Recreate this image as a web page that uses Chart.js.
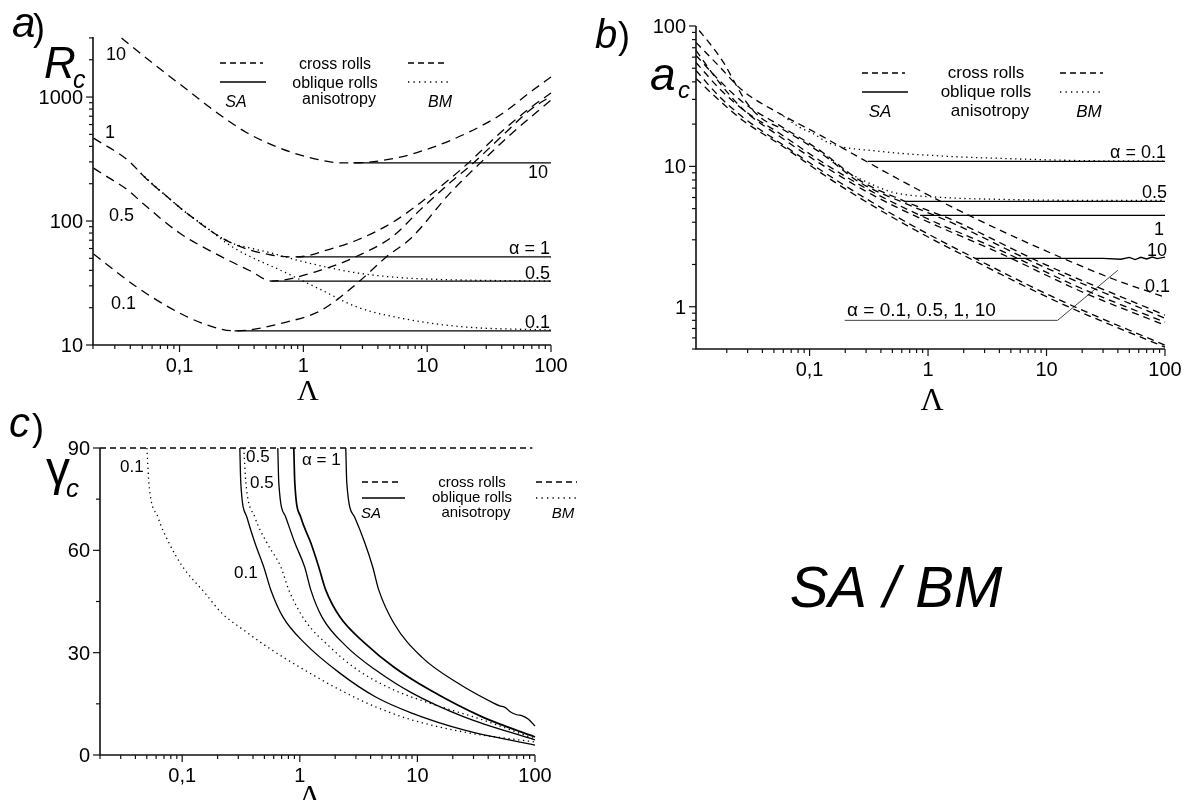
<!DOCTYPE html>
<html><head><meta charset="utf-8">
<script src="https://cdn.jsdelivr.net/npm/chart.js@4.4.1/dist/chart.umd.min.js"></script>
<style>
html,body{margin:0;padding:0;background:#fff;}
.wrap{position:absolute;left:0;top:0;width:1191px;height:800px;}
</style></head><body>
<div class="wrap"><canvas id="ca"></canvas></div>
<div class="wrap"><canvas id="cb"></canvas></div>
<div class="wrap"><canvas id="cc"></canvas></div>
<script>
// ---------- Panel a: R_c vs Lambda ----------
const lamA_c10 = [0.0340,0.0381,0.0665,0.116,0.202,0.353,0.617,1.08,2.10,2.53,6.06,11.2,21.0,38.8,71.6,100];
const rcA_c10  = [2990,2723,1746,1139,743,513,395,328,294,294,328,395,513,716,1139,1450];
const lamA_s10 = [2.53,100];   const rcA_s10 = [294,294];
const lamA_c1  = [0.0202,0.0381,0.0552,0.0800,0.114,0.253,0.552,0.879,1.65,2.73,5.32,8.78,14.2,21.0,38.8,67.7,100];
const rcA_c1   = [466,310,214,156,116,67.7,53.2,51.3,59.4,70.3,98.2,140,206,288,513,815,1077];
const lamA_s1  = [0.879,100];  const rcA_s1 = [51.3,51.3];
const lamA_c05 = [0.0202,0.0263,0.0381,0.0513,0.1,0.191,0.374,0.552,1.40,2.73,5.32,8.78,16.2,23.1,42.6,67.7,100];
const rcA_c05  = [267,226,178,137,80.0,55.2,39.5,32.8,40.3,52.2,75.7,123,214,288,513,785,1019];
const lamA_s05 = [0.552,100];  const rcA_s05 = [32.8,32.8];
const lamA_c01 = [0.0202,0.0450,0.1,0.178,0.278,0.729,1.40,2.73,4.67,7.43,15.3,25.8,46.7,100];
const rcA_c01  = [54.2,29.4,18.1,14.2,13.0,15.3,19.1,31.6,51.3,73.0,168,283,494,946];
const lamA_s01 = [0.278,100];  const rcA_s01 = [13.0,13.0];
const lamA_d1  = [0.0485,0.0552,0.0800,0.114,0.253,0.374,0.552,0.879,1.40,2.73,5.32,10.4,19.9,100];
const rcA_d1   = [244,214,156,116,67.7,60.5,55.2,48.5,43.4,38.1,35.3,34.0,33.4,32.8];
const lamA_d2  = [0.0485,0.0800,0.114,0.148,0.268,0.729,1.40,2.73,7.43,19.9,100];
const rcA_d2   = [244,156,116,96.4,61.7,38.1,27.8,20.2,15.9,14.0,13.2];

// ---------- Panel b: a_c vs Lambda ----------
const lamB_c01 = [0.0110,0.0173,0.0271,0.0557,0.115,0.310,0.981,4.08,15.1,37.0,100];
const aB_c01   = [76.4,51.5,34.8,23.8,17.2,10.7,6.32,3.50,2.14,1.57,1.17];
const lamB_c05 = [0.0110,0.0173,0.0281,0.0557,0.122,0.265,0.638,1.63,8.90,100];
const aB_c05   = [61.7,41.0,28.1,19.6,13.0,7.95,5.64,4.13,2.07,0.871];
const lamB_c1  = [0.0110,0.0173,0.0281,0.0557,0.122,0.322,0.856,4.08,19.4,100];
const aB_c1    = [55.0,35.9,25.0,17.2,11.0,6.74,4.48,2.52,1.36,0.776];
const lamB_c10 = [0.0110,0.0173,0.0281,0.0557,0.169,0.614,2.50,13.1,100];
const aB_c10   = [48.2,31.5,22.0,14.8,7.95,4.13,2.21,1.11,0.532];
const lamB_m05 = [0.0117,0.0148,0.0190,0.0241,0.0298,0.0392,0.0557,0.122,0.265,0.638,1.63,8.90,100];
const aB_m05   = [92.9,72.7,54.1,37.7,28.1,22.0,18.9,12.6,7.69,5.46,3.93,1.97,0.828];
const lamB_m1  = [0.0110,0.0173,0.0281,0.0557,0.122,0.322,0.856,4.08,19.4,100];
const aB_m1    = [67.0,39.6,25.0,16.4,10.5,6.42,4.27,2.40,1.29,0.738];
const lamB_m10 = [0.0110,0.0173,0.0281,0.0557,0.169,0.614,2.50,13.1,100];
const aB_m10   = [42.3,29.5,20.9,14.4,7.57,3.93,2.11,1.06,0.515];
const lamB_s01 = [0.310,100];  const aB_s01 = [10.85,10.85];
const lamB_s05 = [0.638,100];  const aB_s05 = [5.64,5.64];
const lamB_s1  = [0.856,100];  const aB_s1  = [4.48,4.48];
const lamB_s10 = [2.50,30,42.4,50,56,62.6,70,78,86,100];
const aB_s10   = [2.21,2.21,2.18,2.25,2.17,2.25,2.19,2.26,2.20,2.26];
const lamB_d01 = [0.0557,0.0823,0.106,0.148,0.392,1.45,4.08,19.4,100];
const aB_d01   = [23.8,19.0,17.2,14.6,12.8,11.8,11.4,11.0,10.9];
const lamB_d05 = [0.122,0.198,0.322,0.505,1.26,4.08,19.4,100];
const aB_d05   = [13.0,9.37,7.57,6.53,6.02,5.82,5.73,5.73];
const lamB_lead = [0.198,12.4,40]; const aB_lead = [0.80,0.80,1.82];

// ---------- Panel c: gamma_c vs Lambda ----------
const lamC_cross = [0.02,95];  const gC_cross = [90,90];
const lamC_d01 = [0.0501,0.0521,0.0622,0.0771,0.1014,0.156,0.217,0.334,0.578,1.10,2.19,4.42,8.95,25.2,100];
const gC_d01   = [90,79.7,69.7,62.2,55.1,47.5,41.6,36.6,30.8,24.9,19.1,14.1,10.3,6.7,3.8];
const lamC_s01 = [0.309,0.315,0.355,0.415,0.494,0.567,0.718,1.10,2.19,4.42,8.95,25.2,100];
const gC_s01   = [90,79.7,69.7,62.2,55.1,48.4,40.5,32.8,24.0,17.0,12.3,7.3,2.9];
const lamC_d05 = [0.334,0.348,0.415,0.525,0.690,0.806,1.10,1.80,3.11,6.29,12.7,35.9,100];
const gC_d05   = [90,79.7,69.7,62.2,55.1,48.4,39.6,31.7,24.9,19.1,15.2,10.3,4.7];
const lamC_s05 = [0.650,0.663,0.760,0.907,1.10,1.24,1.54,2.51,4.42,8.95,25.2,100];
const gC_s05   = [90,79.7,69.7,62.2,55.1,48.4,40.5,31.7,24.9,18.2,11.1,4.4];
const lamC_s1  = [0.889,0.907,1.02,1.24,1.45,1.66,2.19,3.57,6.29,12.7,35.9,100];
const gC_s1    = [90,79.7,69.7,62.2,55.1,48.4,40.5,32.8,25.8,19.1,11.1,5.3];
const lamC_s10 = [2.46,2.51,2.93,3.57,4.17,4.69,6.29,10.9,22.0,44.5,50,56,62,70,78,88,100];
const gC_s10   = [90,79.7,69.7,62.2,55.1,48.4,38.7,28.7,21.1,15.2,14.4,13.9,12.6,11.8,11.5,10.5,8.5];

// ---------- tick labels ----------
const logXTickVals = [0.1,1,10,100];
const logXTickText = ['0,1','1','10','100'];
const aYTickVals = [10,100,1000];  const aYTickText = ['10','100','1000'];
const bYTickVals = [1,10,100];     const bYTickText = ['1','10','100'];
const cYTickVals = [0,30,60,90];   const cYTickText = ['0','30','60','90'];
const cYMinor = [15,45,75];

const SANS = "'Liberation Sans', Arial, sans-serif";
const SERIF = "'Liberation Serif', 'Times New Roman', serif";

function ser(lams, vals, style, extra) {
  return Object.assign({
    data: lams.map((x, i) => ({x: x, y: vals[i]})),
    borderColor: '#000', borderWidth: 1.3, pointRadius: 0, fill: false, clip: false,
    cubicInterpolationMode: 'monotone', borderCapStyle: 'butt',
    borderDash: style === 'dash' ? [9, 6] : style === 'dashs' ? [7, 5] : style === 'dot' ? [1.3, 3.6] : []
  }, extra || {});
}

function logTicks(min, max) {
  const out = [];
  for (let e = Math.floor(Math.log10(min)); e <= Math.ceil(Math.log10(max)); e++) {
    for (let m = 1; m <= 9; m++) {
      const v = m * Math.pow(10, e);
      if (v >= min * 0.9999 && v <= max * 1.0001) out.push({v: v, major: m === 1});
    }
  }
  return out;
}

function txt(ctx, s, x, y, font, align) {
  ctx.font = font; ctx.textAlign = align || 'left'; ctx.textBaseline = 'alphabetic';
  ctx.fillStyle = '#000'; ctx.fillText(s, x, y);
}
function seg(ctx, x1, y1, x2, y2, dash, w) {
  ctx.save(); ctx.setLineDash(dash || []); ctx.lineWidth = w || 1.3; ctx.strokeStyle = '#000';
  ctx.beginPath(); ctx.moveTo(x1, y1); ctx.lineTo(x2, y2); ctx.stroke(); ctx.restore();
}

function drawAxes(chart, cfg) {
  const ctx = chart.ctx, xs = chart.scales.x, ys = chart.scales.y, ca = chart.chartArea;
  ctx.save();
  ctx.strokeStyle = '#111'; ctx.lineWidth = 1.6; ctx.setLineDash([]);
  ctx.beginPath(); ctx.moveTo(ca.left, ca.top); ctx.lineTo(ca.left, ca.bottom); ctx.lineTo(ca.right, ca.bottom); ctx.stroke();
  ctx.lineWidth = 1.2;
  for (const t of cfg.xTicks) {
    const px = xs.getPixelForValue(t.v), len = t.major ? 7 : 4;
    ctx.beginPath(); ctx.moveTo(px, ca.bottom); ctx.lineTo(px, ca.bottom + len); ctx.stroke();
  }
  for (const t of cfg.yTicks) {
    const py = ys.getPixelForValue(t.v), len = t.major ? 7 : 4;
    ctx.beginPath(); ctx.moveTo(ca.left, py); ctx.lineTo(ca.left - len, py); ctx.stroke();
  }
  cfg.xLab.forEach((v, i) => txt(ctx, cfg.xText[i], xs.getPixelForValue(v), ca.bottom + 27, cfg.font, 'center'));
  cfg.yLab.forEach((v, i) => txt(ctx, cfg.yText[i], ca.left - 10, ys.getPixelForValue(v) + 7, cfg.font, 'right'));
  ctx.restore();
}

function legend(ctx, L) {
  seg(ctx, L.x1, L.r1, L.x2, L.r1, [6, 4]);
  seg(ctx, L.x1, L.r2, L.x2 + 3, L.r2, []);
  txt(ctx, 'SA', L.saX, L.r3, 'italic ' + L.fs + 'px ' + SANS, 'center');
  txt(ctx, 'cross rolls', L.cx, L.b1, L.fs + 'px ' + SANS, 'center');
  txt(ctx, 'oblique rolls', L.cx, L.b2, L.fs + 'px ' + SANS, 'center');
  txt(ctx, 'anisotropy', L.cx + 4, L.b3, L.fs + 'px ' + SANS, 'center');
  seg(ctx, L.x3, L.r1, L.x4, L.r1, [6, 4]);
  seg(ctx, L.x3, L.r2, L.x4, L.r2, [1.3, 4.2]);
  txt(ctx, 'BM', L.bmX, L.r3, 'italic ' + L.fs + 'px ' + SANS, 'center');
}

function mk(id, pad, xr, yScale, datasets, deco) {
  return new Chart(document.getElementById(id), {
    type: 'line',
    data: {datasets: datasets},
    options: {
      responsive: true, maintainAspectRatio: false, animation: false, events: [],
      layout: {padding: pad},
      scales: {
        x: {type: 'logarithmic', min: xr[0], max: xr[1], display: false},
        y: Object.assign({display: false}, yScale)
      },
      plugins: {legend: {display: false}, tooltip: {enabled: false}}
    },
    plugins: [{id: 'deco_' + id, afterDraw: c => deco(c)}]
  });
}

// ---------------- Panel a ----------------
mk('ca', {left: 93, top: 37, right: 640, bottom: 455}, [0.02, 100],
  {type: 'logarithmic', min: 10, max: 3050},
  [
    ser(lamA_c10, rcA_c10, 'dash'), ser(lamA_s10, rcA_s10, 'solid'),
    ser(lamA_c1, rcA_c1, 'dash'), ser(lamA_s1, rcA_s1, 'solid'),
    ser(lamA_c05, rcA_c05, 'dash'), ser(lamA_s05, rcA_s05, 'solid'),
    ser(lamA_c01, rcA_c01, 'dash'), ser(lamA_s01, rcA_s01, 'solid'),
    ser(lamA_d1, rcA_d1, 'dot'), ser(lamA_d2, rcA_d2, 'dot')
  ],
  c => {
    const ctx = c.ctx;
    drawAxes(c, {xTicks: logTicks(0.02, 100), yTicks: logTicks(10, 3050), xLab: logXTickVals, xText: logXTickText,
      yLab: aYTickVals, yText: aYTickText, font: '20px ' + SANS});
    txt(ctx, 'a', 12, 37, 'italic 42px ' + SANS);
    txt(ctx, ')', 33, 40, '36px ' + SANS);
    txt(ctx, 'R', 44, 78, 'italic 44px ' + SANS);
    txt(ctx, 'c', 73, 88, 'italic 25px ' + SANS);
    txt(ctx, '\u039B', 308, 400, '30px ' + SERIF, 'center');
    legend(ctx, {x1: 220, x2: 263, x3: 408, x4: 448, r1: 63, r2: 82, r3: 107, saX: 236, bmX: 440,
      cx: 335, b1: 69, b2: 88, b3: 104, fs: 16});
    const f = '18px ' + SANS;
    txt(ctx, '10', 106, 60, f); txt(ctx, '1', 105, 138, f); txt(ctx, '0.5', 109, 221, f); txt(ctx, '0.1', 111, 309, f);
    txt(ctx, '\u03B1 = 1', 550, 254, f, 'right'); txt(ctx, '0.5', 550, 279, f, 'right');
    txt(ctx, '0.1', 550, 328, f, 'right'); txt(ctx, '10', 548, 178, f, 'right');
  });

// ---------------- Panel b ----------------
mk('cb', {left: 696, top: 26, right: 26, bottom: 451}, [0.011, 100],
  {type: 'logarithmic', min: 0.5, max: 100},
  [
    ser(lamB_c01, aB_c01, 'dashs'), ser(lamB_c05, aB_c05, 'dashs'), ser(lamB_c1, aB_c1, 'dashs'), ser(lamB_c10, aB_c10, 'dashs'),
    ser(lamB_m05, aB_m05, 'dashs'), ser(lamB_m1, aB_m1, 'dashs'), ser(lamB_m10, aB_m10, 'dashs'),
    ser(lamB_s01, aB_s01, 'solid'), ser(lamB_s05, aB_s05, 'solid'), ser(lamB_s1, aB_s1, 'solid'),
    ser(lamB_s10, aB_s10, 'solid', {cubicInterpolationMode: 'default', tension: 0}),
    ser(lamB_d01, aB_d01, 'dot'), ser(lamB_d05, aB_d05, 'dot'),
    ser(lamB_lead, aB_lead, 'solid', {borderColor: '#444', borderWidth: 1, cubicInterpolationMode: 'default', tension: 0})
  ],
  c => {
    const ctx = c.ctx;
    drawAxes(c, {xTicks: logTicks(0.011, 100), yTicks: logTicks(0.5, 100), xLab: logXTickVals, xText: logXTickText,
      yLab: bYTickVals, yText: bYTickText, font: '20px ' + SANS});
    txt(ctx, 'b', 595, 48, 'italic 40px ' + SANS);
    txt(ctx, ')', 618, 48, '36px ' + SANS);
    txt(ctx, 'a', 650, 90, 'italic 46px ' + SANS);
    txt(ctx, 'c', 678, 98, 'italic 24px ' + SANS);
    txt(ctx, '\u039B', 932, 410, '32px ' + SERIF, 'center');
    legend(ctx, {x1: 862, x2: 905, x3: 1060, x4: 1103, r1: 73, r2: 92, r3: 117, saX: 880, bmX: 1089,
      cx: 986, b1: 78, b2: 97, b3: 116, fs: 17});
    const f = '18px ' + SANS;
    txt(ctx, '\u03B1 = 0.1', 1166, 158, f, 'right'); txt(ctx, '0.5', 1167, 198, f, 'right');
    txt(ctx, '1', 1164, 235, f, 'right'); txt(ctx, '10', 1167, 256, f, 'right');
    txt(ctx, '0.1', 1170, 292, f, 'right');
    txt(ctx, '\u03B1 = 0.1, 0.5, 1, 10', 847, 316, '19px ' + SANS);
  });

// ---------------- Panel c ----------------
mk('cc', {left: 100, top: 448, right: 656, bottom: 45}, [0.02, 100],
  {type: 'linear', min: 0, max: 90},
  [
    ser(lamC_cross, gC_cross, 'dash', {borderDash: [6, 4], borderWidth: 1.5, cubicInterpolationMode: 'default', tension: 0}),
    ser(lamC_d01, gC_d01, 'dot'), ser(lamC_s01, gC_s01, 'solid'),
    ser(lamC_d05, gC_d05, 'dot'), ser(lamC_s05, gC_s05, 'solid'),
    ser(lamC_s1, gC_s1, 'solid', {borderWidth: 1.7}), ser(lamC_s10, gC_s10, 'solid')
  ],
  c => {
    const ctx = c.ctx;
    const yt = cYTickVals.map(v => ({v: v, major: true})).concat(cYMinor.map(v => ({v: v, major: false})));
    drawAxes(c, {xTicks: logTicks(0.02, 100), yTicks: yt, xLab: logXTickVals, xText: logXTickText,
      yLab: cYTickVals, yText: cYTickText, font: '20px ' + SANS});
    txt(ctx, 'c', 9, 437, 'italic 42px ' + SANS);
    txt(ctx, ')', 32, 440, '36px ' + SANS);
    txt(ctx, '\u03B3', 46, 485, '48px ' + SANS);
    txt(ctx, 'c', 66, 497, 'italic 26px ' + SANS);
    txt(ctx, '\u039B', 310, 805, '30px ' + SERIF, 'center');
    legend(ctx, {x1: 362, x2: 402, x3: 536, x4: 577, r1: 482, r2: 498, r3: 518, saX: 371, bmX: 563,
      cx: 472, b1: 487, b2: 502, b3: 517, fs: 15});
    const f = '17px ' + SANS;
    txt(ctx, '0.1', 120, 472, f); txt(ctx, '0.5', 246, 462, f); txt(ctx, '0.5', 250, 488, f);
    txt(ctx, '\u03B1 = 1', 302, 465, f); txt(ctx, '0.1', 234, 578, f);
    txt(ctx, 'SA / BM', 896, 607, 'italic 58px ' + SANS, 'center');
  });
</script></body></html>
